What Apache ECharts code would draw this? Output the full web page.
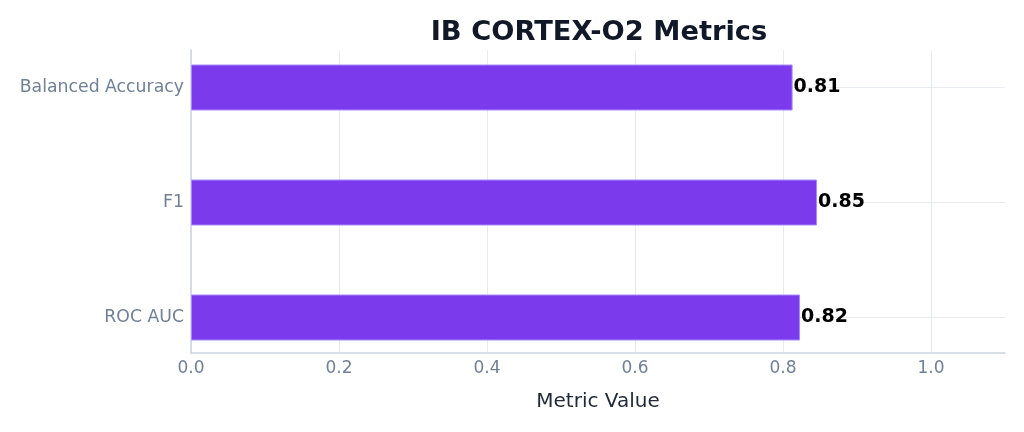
<!DOCTYPE html>
<html>
<head>
<meta charset="utf-8">
<script src="https://cdn.jsdelivr.net/npm/echarts@6/dist/echarts.min.js"></script>
<style>
  html, body { margin: 0; padding: 0; background: #fff; }
  #chart { width: 1024px; height: 432px; }
</style>
</head>
<body>
<div id="chart"></div>
<script>
// metrics, listed top to bottom
const metricNames = ['Balanced Accuracy', 'F1', 'ROC AUC'];
const metricValues = [0.813, 0.846, 0.823];
const xTicks = [0, 0.2, 0.4, 0.6, 0.8, 1.0];

const FONT = 'DejaVu Sans';
const GRID_COLOR = '#e8ebf0';
const AXIS_COLOR = '#cbd5e1';
const X_MAX = 1.1;

const chart = echarts.init(document.getElementById('chart'));

// one colour per tick, the extra tick at X_MAX stays hidden
const splitColors = xTicks.map(() => GRID_COLOR).concat(['rgba(0,0,0,0)']);

chart.setOption({
  animation: false,
  textStyle: { fontFamily: FONT },
  title: {
    text: 'IB CORTEX-O2 Metrics',
    left: 594,
    top: 14,
    textAlign: 'center',
    textStyle: { fontFamily: FONT, fontSize: 27.3, fontWeight: 'bold', color: '#111827' }
  },
  grid: [
    // frame: x axis, vertical gridlines, left axis line
    { left: 191, right: 19, top: 50, bottom: 79 },
    // bars: the category band is a bit taller than the frame
    { left: 191, right: 19, top: 30, bottom: 57 }
  ],
  xAxis: [
    {
      gridIndex: 0,
      type: 'value',
      min: 0,
      max: X_MAX,
      interval: 0.2,
      name: 'Metric Value',
      nameLocation: 'middle',
      nameGap: 39,
      nameTextStyle: { fontFamily: FONT, fontSize: 20, color: '#1f2937' },
      axisLine: { show: true, lineStyle: { color: AXIS_COLOR, width: 1.5 } },
      axisTick: { show: false },
      axisLabel: {
        margin: 7,
        fontFamily: FONT,
        fontSize: 17,
        color: '#718096',
        showMaxLabel: false,
        formatter: (v) => v.toFixed(1)
      },
      splitLine: { show: true, lineStyle: { color: splitColors, width: 1 } }
    },
    {
      gridIndex: 1,
      type: 'value',
      min: 0,
      max: X_MAX,
      show: false
    }
  ],
  yAxis: [
    {
      gridIndex: 0,
      type: 'value',
      axisLine: { show: true, lineStyle: { color: AXIS_COLOR, width: 1.5 } },
      axisTick: { show: false },
      axisLabel: { show: false },
      splitLine: { show: false }
    },
    {
      gridIndex: 1,
      type: 'category',
      inverse: true,
      data: metricNames,
      axisLine: { show: false },
      axisTick: { show: false },
      axisLabel: {
        margin: 7,
        padding: [4, 0, 0, 0],
        fontFamily: FONT,
        fontSize: 17.3,
        color: '#718096'
      },
      splitLine: { show: true, alignWithLabel: true, lineStyle: { color: GRID_COLOR, width: 1 } }
    }
  ],
  series: [
    {
      type: 'bar',
      xAxisIndex: 1,
      yAxisIndex: 1,
      data: metricValues,
      barWidth: 46,
      itemStyle: { color: '#7c3aed', borderColor: '#a78bfa', borderWidth: 1 },
      label: {
        show: true,
        position: 'right',
        distance: 1,
        padding: [2, 0, 0, 0],
        fontFamily: FONT,
        fontSize: 19,
        fontWeight: 'bold',
        color: '#000',
        formatter: (p) => p.value.toFixed(2)
      },
      z: 3
    }
  ]
});
</script>
</body>
</html>
